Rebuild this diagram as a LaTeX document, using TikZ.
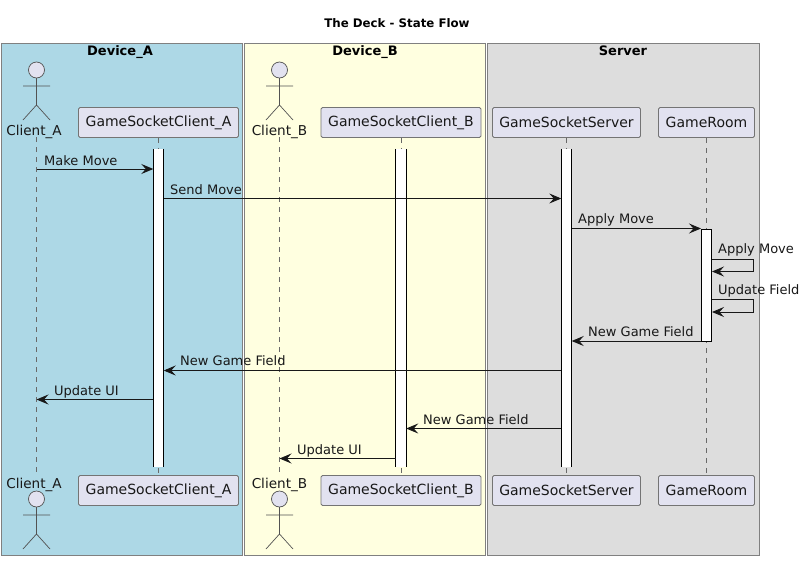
\documentclass[tikz,border=0pt]{standalone}
\usepackage{fontspec}
\setmainfont{DejaVu Sans}
\usetikzlibrary{arrows.meta}
\definecolor{partfill}{HTML}{E2E2F0}
\definecolor{ink}{HTML}{181818}
\definecolor{frame}{HTML}{808080}
\tikzset{
  x=1pt,y=-1pt,
  devbox/.style={draw=frame,line width=1pt,anchor=north west,inner sep=0,outer sep=0},
  boxtitle/.style={font=\fontsize{13}{15}\selectfont\bfseries,text=black,inner sep=0,anchor=base},
  pagetitle/.style={font=\fontsize{11.8}{15}\selectfont\bfseries,text=black,inner sep=0,anchor=base},
  part/.style={draw=ink!60,fill=partfill,rounded corners=1.5pt,line width=.8pt,minimum height=30pt,inner sep=0,font=\fontsize{14}{15}\selectfont,text=ink},
  actorlabel/.style={font=\fontsize{13.6}{15}\selectfont,text=ink,inner sep=0,anchor=base},
  stick/.style={draw=ink!75,line width=.7pt},
  life/.style={draw=ink!65,line width=.7pt,dash pattern=on 5pt off 5pt},
  bar/.style={fill=white,draw=none,minimum width=10pt,inner sep=0},
  barside/.style={draw=black,line width=1pt},
  msg/.style={draw=ink,line width=.9pt,-{Stealth[length=12pt,width=10pt,inset=4.5pt]}},
  msglabel/.style={font=\fontsize{13}{15}\selectfont,text=ink,inner sep=0,anchor=base west},
}
\newcommand{\stickman}[2]{%
  \draw[stick,fill=partfill] (#1,#2) circle[radius=8];
  \draw[stick] (#1,#2+8) -- (#1,#2+35) (#1-13.5,#2+16) -- (#1+13.5,#2+16)
    (#1-13.5,#2+50) -- (#1,#2+35) -- (#1+13.5,#2+50);
}
\begin{document}
\begin{tikzpicture}
\useasboundingbox (0,0) rectangle (806,560);
\node[pagetitle] (title) at (397,27.5) {The Deck - State Flow};
% group boxes
\node[devbox,fill={rgb,255:red,173;green,216;blue,230},minimum width=241pt,minimum height=512pt] (devA) at (1.5,43.5) {};
\node[devbox,fill={rgb,255:red,255;green,255;blue,224},minimum width=241pt,minimum height=512pt] (devB) at (244.5,43.5) {};
\node[devbox,fill={rgb,255:red,221;green,221;blue,221},minimum width=272pt,minimum height=512pt] (srv) at (487,43.5) {};
\node[boxtitle] (tA) at (120,55) {Device\_A};
\node[boxtitle] (tB) at (365,55) {Device\_B};
\node[boxtitle] (tS) at (623,55) {Server};
% lifelines
\coordinate (cAtop) at (36.5,137);
\coordinate (cAbot) at (36.5,475);
\coordinate (cBtop) at (279.5,137);
\coordinate (cBbot) at (279.5,475);
\draw[life] (cAtop) -- (cAbot);
\draw[life] (cBtop) -- (cBbot);
% participants
\node[part,minimum width=160pt] (gA) at (158.5,122.5) {GameSocketClient\_A};
\node[part,minimum width=160pt] (gB) at (401,122.5) {GameSocketClient\_B};
\node[part,minimum width=148pt] (gS) at (566.5,122.5) {GameSocketServer};
\node[part,minimum width=96pt] (gR) at (706.5,122.5) {GameRoom};
\node[part,minimum width=160pt] (gA2) at (158.5,490.5) {GameSocketClient\_A};
\node[part,minimum width=160pt] (gB2) at (401,490.5) {GameSocketClient\_B};
\node[part,minimum width=148pt] (gS2) at (566.5,490.5) {GameSocketServer};
\node[part,minimum width=96pt] (gR2) at (706.5,490.5) {GameRoom};
\draw[life] (gA) -- (gA2);
\draw[life] (gB) -- (gB2);
\draw[life] (gS) -- (gS2);
\draw[life] (gR) -- (gR2);
% actors
\stickman{36.5}{70}
\stickman{279.5}{70}
\stickman{36.5}{499}
\stickman{279.5}{499}
\node[actorlabel] (lA) at (34,135) {Client\_A};
\node[actorlabel] (lB) at (279.5,135) {Client\_B};
\node[actorlabel] (lA2) at (34,488) {Client\_A};
\node[actorlabel] (lB2) at (279.5,488) {Client\_B};
% activation bars
\node[bar,minimum height=318pt] (aA) at (158.5,308) {};
\node[bar,minimum height=318pt] (aB) at (401,308) {};
\node[bar,minimum height=318pt] (aS) at (566.5,308) {};
\node[bar,draw=black,line width=1pt,minimum height=112pt] (aR) at (706.5,285) {};
\foreach \n in {aA,aB,aS}{
  \draw[barside] (\n.north west) -- (\n.south west) (\n.north east) -- (\n.south east);
}
% messages
\coordinate (cA) at (36.5,0);
\coordinate (cB) at (279.5,0);
\draw[msg] (cA |- 0,169) -- (aA.west |- 0,169);
\draw[msg] (aA.east |- 0,198.5) -- (aS.west |- 0,198.5);
\draw[msg] (aS.east |- 0,228.5) -- (aR.west |- 0,228.5);
\coordinate (loop) at (753.5,0);
\draw[msg] (aR.east |- 0,259) -- (loop |- 0,259) -- (loop |- 0,271.5) -- (aR.east |- 0,271.5);
\draw[msg] (aR.east |- 0,299.5) -- (loop |- 0,299.5) -- (loop |- 0,312) -- (aR.east |- 0,312);
\draw[msg] (aR.west |- 0,341) -- (aS.east |- 0,341);
\draw[msg] (aS.west |- 0,370.5) -- (aA.east |- 0,370.5);
\draw[msg] (aA.west |- 0,399.5) -- (cA |- 0,399.5);
\draw[msg] (aS.west |- 0,428.5) -- (aB.east |- 0,428.5);
\draw[msg] (aB.west |- 0,458.5) -- (cB |- 0,458.5);
% message labels
\node[msglabel] (m1) at (44,165) {Make Move};
\node[msglabel] (m2) at (170,194) {Send Move};
\node[msglabel] (m3) at (578,223) {Apply Move};
\node[msglabel] (m4) at (718,253) {Apply Move};
\node[msglabel] (m5) at (718,294) {Update Field};
\node[msglabel] (m6) at (588,336) {New Game Field};
\node[msglabel] (m7) at (180,365) {New Game Field};
\node[msglabel] (m8) at (54,395) {Update UI};
\node[msglabel] (m9) at (423,424) {New Game Field};
\node[msglabel] (m10) at (297,454) {Update UI};
\end{tikzpicture}
\end{document}
